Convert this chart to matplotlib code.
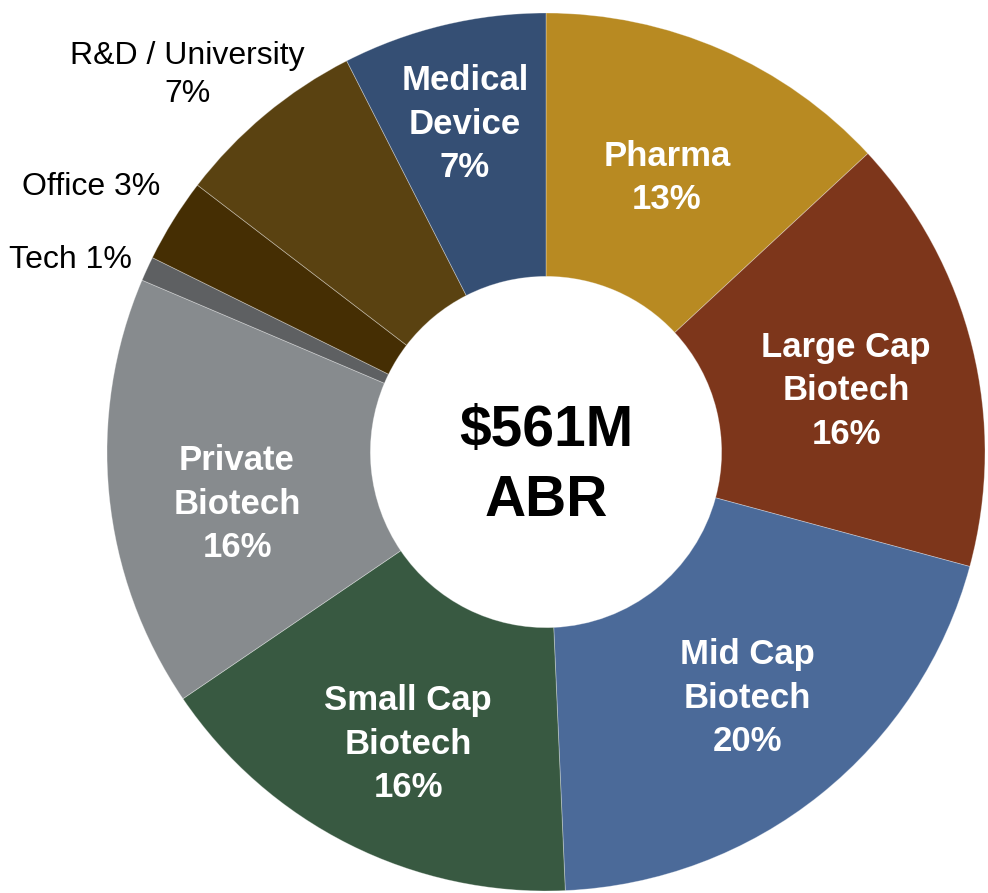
import matplotlib
matplotlib.use('Agg')
import matplotlib.pyplot as plt

# share of annual base rent by tenant type, clockwise from 12 o'clock
sectors = ['Pharma', 'Large Cap Biotech', 'Mid Cap Biotech', 'Small Cap Biotech',
           'Private Biotech', 'Tech', 'Office', 'R&D / University', 'Medical Device']
shares = [13.1, 16.1, 20.1, 16.2, 15.9, 0.9, 3.1, 7.1, 7.5]
pct_labels = ['13%', '16%', '20%', '16%', '16%', '1%', '3%', '7%', '7%']
colors = ['#B88A22', '#7D361B', '#4B6A99', '#385941', '#878B8E',
          '#5E6062', '#452E03', '#5A4211', '#354F74']

plt.rcParams['font.family'] = ['Liberation Sans', 'DejaVu Sans']

W, H = 988, 893
fig = plt.figure(figsize=(W / 100, H / 100), dpi=100)
ax = fig.add_axes([0, 0, 1, 1])

cx, cy, R = 546, H - 452, 439
ax.pie(shares, colors=colors, startangle=90, counterclock=False,
       center=(cx, cy), radius=R, frame=True,
       wedgeprops=dict(width=R * 0.6, edgecolor=(1, 1, 1, 0.35), linewidth=0.6))
ax.set_xlim(0, W)
ax.set_ylim(0, H)
ax.set_aspect('equal')
ax.axis('off')

# labels inside the ring (pixel positions measured from the top)
inside = {
    'Pharma': (667, 178, 'Pharma'),
    'Large Cap Biotech': (846, 391, 'Large Cap\nBiotech'),
    'Mid Cap Biotech': (747, 698, 'Mid Cap\nBiotech'),
    'Small Cap Biotech': (408, 744, 'Small Cap\nBiotech'),
    'Private Biotech': (237, 504, 'Private\nBiotech'),
    'Medical Device': (465, 124, 'Medical\nDevice'),
}
for name, pct in zip(sectors, pct_labels):
    if name in inside:
        x, y, txt = inside[name]
        ax.text(x, H - y, txt + '\n' + pct, ha='center', va='center',
                color='white', fontsize=25, fontweight='bold', linespacing=1.42)

# small slices labelled outside
ax.text(187, H - 75, 'R&D / University\n7%', ha='center', va='center',
        fontsize=23, color='black', linespacing=1.39)
ax.text(91, H - 187, 'Office 3%', ha='center', va='center', fontsize=23, color='black')
ax.text(70, H - 260, 'Tech 1%', ha='center', va='center', fontsize=23, color='black')

ax.text(546, H - 466, '$561M\nABR', ha='center', va='center',
        fontsize=41, fontweight='bold', color='black', linespacing=1.37)

fig.savefig('out.png', dpi=100)
